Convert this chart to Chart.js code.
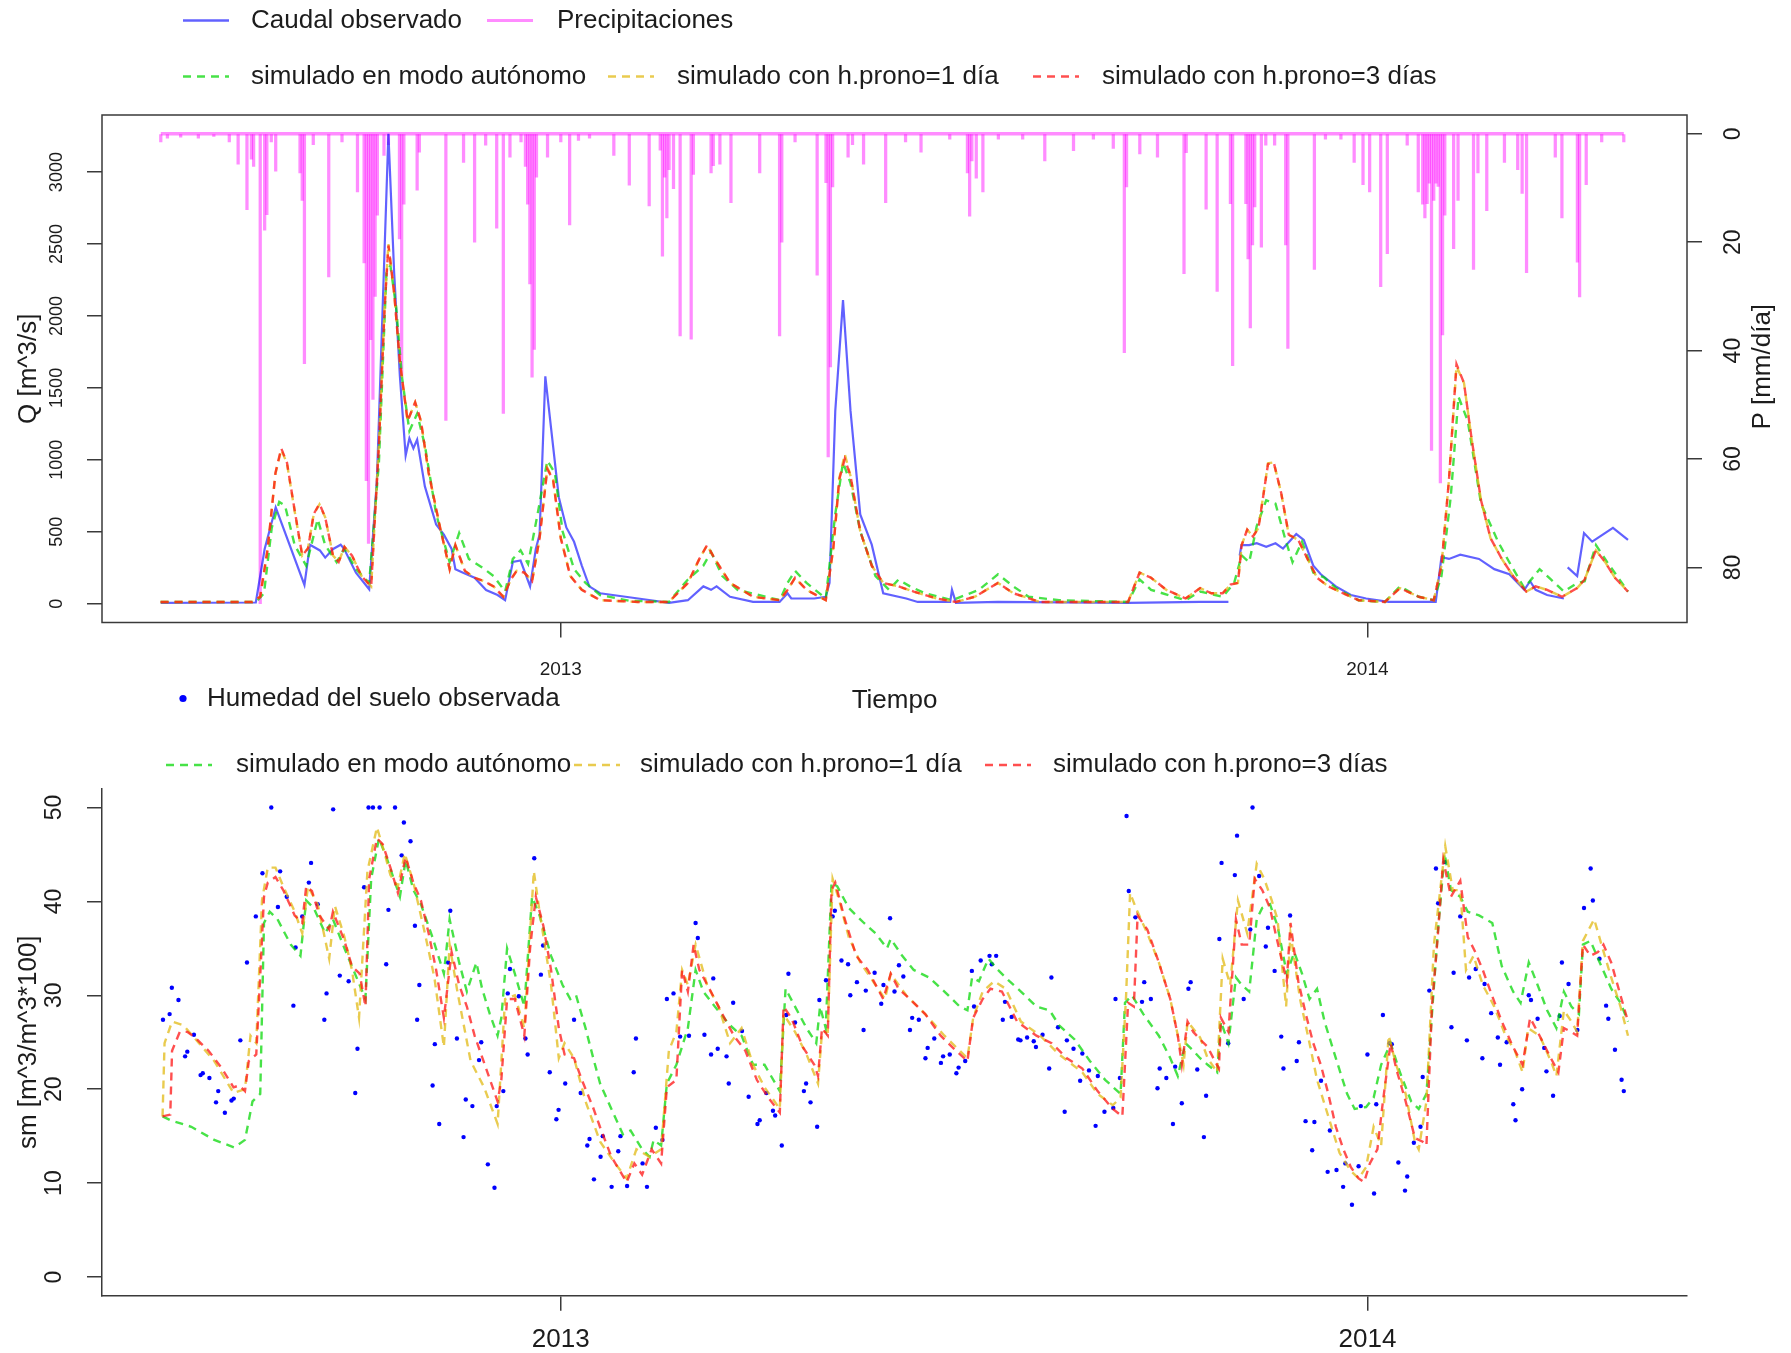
<!DOCTYPE html>
<html><head><meta charset="utf-8">
<script src="https://cdn.jsdelivr.net/npm/chart.js@4.4.1/dist/chart.umd.min.js"></script>
<style>
html,body{margin:0;padding:0;background:#fff;}
#wrap{position:relative;width:1791px;height:1353px;background:#fff;}
canvas{position:absolute;left:0;top:0;}
</style></head><body>
<div id="wrap"><canvas id="cTop" width="1791" height="1353"></canvas><canvas id="cBot" width="1791" height="1353"></canvas></div>
<script>
// ---------------- DATA (day = days since 2012-07-01) ----------------
const yearTickDays = [184, 549];
const yearTickLabels = ['2013', '2014'];
const qTicks = [0, 500, 1000, 1500, 2000, 2500, 3000];
const pTicks = [0, 20, 40, 60, 80];
const smTicks = [0, 10, 20, 30, 40, 50];

// Caudal observado [m3/s]  (null = missing)
const qObs = [[3,5],[46,8],[50,380],[55,670],[68,130],[70.5,410],[75,370],[77.4,320],[81,380],[84.4,410],[86,380],[91.3,215],[97.3,100],[100.8,860],[103.4,2060],[106,3266],[108.6,2300],[111.2,1580],[113.8,1030],[115.5,1150],[117.3,1080],[119,1140],[122.5,815],[127.6,550],[131.1,480],[134.6,380],[136.3,240],[139.8,215],[145,180],[150.2,95],[155.4,60],[158.8,24],[162.3,290],[165.8,300],[170.1,120],[172.7,380],[174.4,480],[177,1580],[179.6,1220],[183.1,740],[186.5,530],[190,430],[193.5,265],[196.9,120],[201.8,72],
[219,36],[233,5],[241.5,24],[248.5,120],[252,96],[254.5,120],[260.6,48],[271,12],[283,12],[286.6,72],[288.3,36],[298.7,36],[303.9,48],[305.6,144],[308.2,1340],[311.7,2110],[315.1,1340],[319.5,620],[324.7,410],[329.9,72],[340.3,36],[345.5,12],[360.2,12],[361,96],[362.8,5],[381.8,12],[440.7,5],[473.3,12],[486.1,12],[488,null],
[491.2,335],[492,407],[495.5,407],[498.9,420],[503.2,395],[507.4,420],[510.8,383],[516.8,484],[520.2,443],[524.5,264],[527.9,204],[534.7,120],[541.5,60],[545,48],[548.4,36],[558.6,12],[579.9,12],[582.5,323],[585.9,311],[591,340],[599.5,311],[606.4,240],[613.2,204],[620,96],[622.6,156],[625.1,96],[630.3,60],[637.9,36],[638.8,null],
[639.6,252],[643.9,192],[647,491],[650.7,431],[660.1,527],[666.9,443]];

// simulado en modo autónomo
const qSimAut = [[2.9,12],[46.2,12],[49.7,72],[53.2,527],[56.6,707],[59.2,683],[63.6,407],[68.8,264],[74,587],[77.4,407],[82.6,288],[86.1,383],[91.3,240],[97.3,144],[101.7,980],[105.1,2300],[106.9,2350],[109.5,2060],[112.1,1580],[115.5,1200],[119,1320],[122.5,1100],[127.6,623],[133.7,288],[138,491],[142.4,311],[148.4,252],[153.6,192],[158.8,84],[162.3,311],[165.8,371],[169.2,276],[173.5,623],[177.9,994],[181.3,910],[184.8,503],[190,240],[195.2,144],[201.8,60],
[215,20],[232.9,12],[241.5,168],[248.5,264],[252,359],[257.1,192],[264,96],[283.1,24],[286.6,144],[290,228],[295.2,144],[303.9,36],[308.2,623],[311.7,982],[315.1,839],[319.5,503],[326.4,192],[332.5,96],[336.8,168],[342,120],[348.9,72],[361,24],[373.2,96],[381.8,204],[388.8,120],[395.7,48],[409.5,24],[440.7,12],[445.9,168],[451.1,96],[461.5,48],[466.7,24],[473.3,84],
[483.5,48],[488.7,144],[492.1,335],[495.5,288],[498.9,539],[503.2,719],[507.4,695],[511.7,455],[515.1,288],[519.4,431],[524.5,216],[529.6,180],[534.7,108],[545,24],[556.9,12],[563.7,120],[572.2,48],[579,24],[582.5,192],[586.7,743],[590.2,1438],[594.4,1270],[600.4,695],[608.1,431],[613.2,288],[620,108],[626.9,240],[632,168],[637.9,84],[643.9,144],[647.3,156],[652.4,407],[657.5,288],[666.9,84]];

// simulado con h.prono=1 día
const qSim1 = [[2.9,12],[44.5,12],[48,50],[51.4,390],[54.9,905],[57.5,1070],[60.1,975],[63.6,640],[67,335],[69.6,385],[72.2,620],[74.8,690],[77.4,600],[80.9,335],[83.5,290],[86.1,395],[89.5,335],[93.9,190],[98.2,120],[101.7,1110],[104.3,2080],[106,2500],[108.6,2160],[111.2,1680],[114.7,1270],[118.1,1400],[120.7,1270],[124.2,910],[129.4,527],[133.7,240],[136.3,407],[140.6,228],[145,180],[149.3,156],[153.6,120],[158,48],[161.4,168],[164,228],[167.5,216],[171,156],[174.4,455],[177.9,945],[180.5,863],[184,455],[188.3,192],[193.5,96],[201.8,24],
[219,12],[232.9,12],[241.5,144],[246.7,311],[250.2,407],[253.7,311],[260.6,144],[271,48],[283.1,24],[286.6,96],[290,180],[295.2,96],[303.9,24],[307.3,383],[310,870],[312.5,1040],[315.1,887],[319.5,503],[324.7,264],[329.9,144],[336.8,120],[343.7,84],[354.1,36],[362.8,12],[371.4,48],[381.8,144],[388.8,72],[400.9,12],[440.7,12],[445.9,216],[451.1,180],[458,96],[466.7,36],[473.3,108],
[478.4,72],[483.5,72],[487,132],[490.4,144],[492.1,407],[494.6,515],[497.2,467],[499.7,527],[504,975],[506.6,982],[510,767],[513.4,479],[517.7,443],[521.9,311],[526.2,180],[531.3,120],[538.1,72],[545,24],[556.9,12],[563.7,108],[572.2,48],[579,24],[582.5,264],[585.9,863],[589.3,1650],[592.7,1533],[596.1,1150],[600.4,719],[604.7,455],[609.8,311],[614.9,192],[620.9,84],[625.1,120],[630.3,96],[637.1,48],[643.9,108],[647.3,168],[652.4,371],[656.6,288],[661,180],[666.9,84]];

// simulado con h.prono=3 días
const qSim3 = [[2.9,12],[44.5,12],[48,48],[51.4,383],[54.9,910],[57.5,1080],[60.1,980],[63.6,647],[67,335],[69.6,383],[72.2,623],[74.8,695],[77.4,600],[80.9,335],[83.5,290],[86.1,395],[89.5,335],[93.9,190],[98.2,120],[101.7,1100],[104.3,2060],[106,2490],[108.6,2160],[111.2,1680],[114.7,1270],[118.1,1400],[120.7,1270],[124.2,910],[129.4,527],[133.7,240],[136.3,407],[140.6,228],[145,180],[149.3,156],[153.6,120],[158,48],[161.4,168],[164,228],[167.5,216],[171,156],[174.4,455],[177.9,935],[180.5,863],[184,455],[188.3,192],[193.5,96],[201.8,24],
[219,12],[232.9,12],[241.5,144],[246.7,311],[250.2,407],[253.7,311],[260.6,144],[271,48],[283.1,24],[286.6,96],[290,180],[295.2,96],[303.9,24],[307.3,383],[310,863],[312.5,1006],[315.1,887],[319.5,503],[324.7,264],[329.9,144],[336.8,120],[343.7,84],[354.1,36],[362.8,12],[371.4,48],[381.8,144],[388.8,72],[400.9,12],[440.7,12],[445.9,216],[451.1,180],[458,96],[466.7,36],[473.3,108],
[478.4,72],[483.5,72],[487,132],[490.4,144],[492.1,407],[494.6,515],[497.2,467],[499.7,527],[504,970],[506.6,982],[510,767],[513.4,479],[517.7,443],[521.9,311],[526.2,180],[531.3,120],[538.1,72],[545,24],[556.9,12],[563.7,108],[572.2,48],[579,24],[582.5,264],[585.9,863],[589.3,1665],[592.7,1533],[596.1,1150],[600.4,719],[604.7,455],[609.8,311],[614.9,192],[620.9,84],[625.1,120],[630.3,96],[637.1,48],[643.9,108],[647.3,168],[652.4,371],[656.6,288],[661,180],[666.9,84]];

// Precipitaciones [mm/día]
const precip = [[3,1.5],[6,0.8],[12,0.6],[20,0.8],[27,0.5],[34,1.5],[38,5.6],[42,14],[44,4.7],[45,6],[48,86.7],[50,17.8],[51,14.9],[53,1.5],[55,6.9],[66,7.2],[67,12.3],[68,42.4],[72,2],[79,26.4],[85,1.5],[92,10.7],[95,23.8],[96,64],[97,75.6],[98,38],[99,49],[100,30],[101,15],[104,4],[106,2],[111,19.4],[112,44.9],[113,13],[119,10.4],[120,3.4],[132,52.9],[140,5.3],[145,20],[150,2.1],[155,17.4],[158,51.6],[161,4.3],[166,1.5],[168,6],[169,13],[170,27.7],[171,44.9],[172,39.8],[173,8],[178,4.3],[184,1.5],[188,16.8],[192,1.2],[197,0.8],
[208,4],[215,9.5],[224,13.3],[229,3],[230,22.6],[231,8],[232,15.5],[233,6.6],[235,10.1],[238,37.3],[243,37.9],[244,7.5],[252,7.2],[253,5.9],[256,5.6],[261,12.7],[274,7.2],[283,37.3],[284,20],[290,1.5],[300,26.1],[304,9],[305,59.6],[306,43],[307,9.8],[314,4.3],[316,2],[321,5.6],[331,12.7],[340,1.5],[347,3.4],[360,1],[368,7.2],[369,15.2],[370,5],[372,8.2],[375,10.7],[382,1],[393,1],[403,5],[416,3.1],[425,1],[434,2.7],[439,40.4],[440,9.8],[446,3.7],[454,4.3],[466,25.8],[467,3.5],
[476,13.9],[481,29.1],[487,12.9],[488,42.8],[494,12.9],[495,23.1],[496,35.8],[497,20.5],[498,13.5],[501,20.9],[503,2.1],[507,2.1],[512,20.5],[513,39.6],[525,25],[530,1],[537,1],[543,5.3],[547,9.4],[550,10.7],[555,28.2],[558,22.1],[567,2.1],[572,10.7],[574,13],[575,15.5],[576,12.9],[577,9.1],[578,58.4],[579,12.3],[580,9.1],[581,9.7],[582,64.4],[583,37.1],[584,15],[588,21.2],[590,12.3],[597,25],[599,7.2],[603,14.2],[611,5.3],[617,6.6],[619,11],[621,25.6],[634,4.3],[637,15.5],[644,23.7],[645,30.1],[648,9.4],[655,1.5],[665,1.5]];

// Humedad del suelo observada [m3/m3*100]
const smObs = [[4,27.4],[7,28.0],[8,30.8],[11,29.5],[14,23.5],[15,24.0],[18,25.8],[21,21.5],[22,21.7],[25,21.2],[28,18.6],[29,19.8],[32,17.5],[35,18.8],[36,19.0],[39,25.2],[42,33.5],[46,38.4],[49,43.0],[53,50.0],[56,39.4],[57,43.2],[60,40.5],[63,28.9],[64,35.1],[67,38.4],[70,42.0],[71,44.1],[74,39.7],[77,27.4],[78,30.2],[81,49.8],[84,32.1],[88,31.5],[91,19.6],[92,24.3],[95,41.5],[97,50.0],[99,50.0],[102,50.0],[105,33.3],[106,39.1],[109,50.0],[112,44.9],[113,48.4],[116,46.4],[118,37.4],[119,27.4],[120,31.1],[126,20.4],[127,24.8],[129,16.3],[133,33.5],[134,39.0],[137,25.4],[140,14.9],[141,18.9],[144,18.2],[147,23.1],[148,25.0],[151,12.0],[154,9.5],[155,18.2],[158,19.8],[160,30.2],[161,32.8],[165,29.9],[168,25.4],[169,23.7],[172,44.6],[175,32.2],[176,35.3],[179,21.8],[182,16.8],[183,17.8],[186,20.6],[190,27.4],[193,19.6],[196,14.0],[197,14.7],[199,10.4],[202,12.8],
[203,15.0],[207,9.6],[210,13.4],[211,15.0],[214,9.7],[217,21.8],[218,25.4],[221,12.1],[223,9.6],[227,15.9],[230,14.6],[232,29.6],[235,30.2],[238,25.6],[242,25.7],[245,37.7],[246,36.1],[249,25.8],[252,23.7],[253,31.8],[255,24.3],[259,23.5],[260,20.6],[262,29.2],[266,26.2],[269,19.2],[273,16.3],[274,16.7],[277,19.6],[280,17.7],[281,17.2],[284,14.0],[286,27.9],[287,32.3],[290,27.1],[294,19.8],[295,20.6],[297,18.6],[300,16.0],[301,29.5],[304,31.6],[307,38.4],[308,39.0],[311,33.7],[314,33.3],[315,30.0],[318,31.4],[321,26.3],[322,30.5],[326,32.4],[329,29.1],[330,31.1],[333,38.2],[335,30.4],[337,33.2],[339,32.0],[342,26.3],[343,27.6],[346,27.4],[349,23.3],[350,24.4],[353,25.4],[356,22.8],[357,23.5],[360,23.7],[363,21.7],[364,22.3],[367,23.0],[370,32.6],[371,28.8],[374,33.7],[378,34.2],[379,33.3],[381,34.2],[384,27.4],[385,29.3],[388,27.7],[391,25.3],[392,25.2],[395,25.5],[398,25.1],[399,24.5],[402,25.8],[405,22.2],[406,31.9],[409,26.6],[412,17.6],[413,25.2],[416,24.3],[419,20.9],[420,23.8],[423,22.0],[426,16.1],[427,21.4],[430,17.6],[434,18.0],[435,29.6],[437,21.2],[440,49.1],[441,41.1],[444,38.3],[447,29.3],[448,31.4],[451,29.6],[454,20.1],[455,22.2],[458,21.2],[461,16.3],[462,22.4],[465,18.5],[468,30.7],[469,31.4],[472,22.1],
[475,14.9],[476,19.3],[482,36.0],[483,44.1],[486,24.9],[489,42.8],[490,47.0],[493,29.6],[496,37.0],[497,50.0],[500,42.7],[503,35.2],[504,37.2],[507,32.6],[510,25.6],[511,22.2],[514,38.5],[517,23.0],[518,25.0],[521,16.6],[524,13.5],[525,16.5],[528,20.9],[531,11.2],[532,15.6],[535,11.4],[538,9.6],[539,12.1],[542,7.7],[545,11.8],[546,18.2],[549,23.7],[552,8.9],[553,18.4],[556,27.9],[559,24.9],[560,24.8],[563,12.2],[566,9.2],[567,10.7],[570,14.3],[573,16.0],[574,21.3],[577,30.5],[580,43.5],[581,39.8],[584,44.2],[587,26.6],[588,32.4],[591,38.4],[594,25.2],[595,31.9],[598,32.8],[601,23.3],[602,31.2],[605,28.1],[608,25.5],[609,22.6],[612,25.0],[615,18.4],[616,16.7],[619,20.0],[622,30.0],[623,29.5],[626,27.5],[629,24.4],[630,21.9],[633,19.3],[636,27.8],[637,33.5],[640,31.2],[644,26.3],[647,39.3],[650,43.5],[651,40.1],[654,33.9],[657,28.9],[658,27.5],[661,24.2],[664,21.0],[665,19.8]];

const smSimAut = [[3.8,17.1],[7.3,16.7],[16.8,16.0],[27.2,14.6],[36.2,13.8],[41.1,14.6],[44.5,18.7],[48,19.5],[49.7,37.7],[52.3,38.9],[55.8,38.1],[61.8,35.4],[66.2,34.2],[68.8,40.1],[72.2,39.3],[77.4,36.6],[80.9,38.1],[86.1,35.0],[93,31.1],[95.6,29.6],[98.2,42.4],[101.7,46.7],[105.1,44.7],[111.2,40.5],[113.8,44.4],[117.3,41.2],[120.7,39.7],[125.9,36.2],[131.1,32.3],[133.7,38.1],[138,33.5],[141.5,30.4],[145.8,33.5],[148.4,30.7],[151.9,28.0],[155.4,25.7],[157.1,27.6],[159.7,35.0],[163.2,32.3],[167.5,28.8],[171,40.5],[174.4,38.5],[179.6,34.2],[184.8,31.1],[188.3,29.6],[190.9,30.0],[195.2,26.5],[198.7,23.3],[201.8,20.6],
[206.9,17.9],[212.1,15.2],[215.6,15.6],[220.8,13.6],[224.2,12.8],[226,14.6],[229.4,14.0],[232,20.6],[236.3,22.6],[241.5,26.5],[245,32.7],[248.5,30.4],[253.7,28.8],[260.6,26.8],[265.8,25.7],[271,22.6],[276.2,22.6],[283.1,19.8],[285.7,30.7],[290,28.8],[295.2,26.5],[299.6,24.9],[301.3,28.8],[303.9,26.5],[306.5,42.0],[309.1,41.6],[314.3,39.3],[321.2,37.7],[326.4,36.6],[331.6,35.0],[333.3,36.0],[338.5,34.2],[343.7,32.7],[350.6,31.9],[357.6,30.4],[364.5,28.8],[368,28.4],[370.1,31.9],[373.2,31.5],[377.5,33.9],[381.8,32.7],[387,31.5],[392.2,30.4],[399.2,28.8],[405.2,28.4],[409.5,26.8],[416.5,25.3],[423.4,23.0],[430.3,21.0],[437.3,19.5],[439.3,29.2],[442.4,30.0],[447.6,28.0],[454.6,25.7],[459.8,23.3],[463.2,21.4],[466.7,24.9],[470.2,24.1],[473.3,23.3],
[476.7,22.6],[481,21.8],[482.7,27.2],[486.1,24.9],[489.5,31.9],[492.1,31.1],[495.5,30.4],[498.9,38.1],[501.4,39.3],[504.9,39.7],[508.3,37.4],[512.5,32.3],[515.9,34.6],[519.4,32.3],[522.8,29.6],[526.2,30.7],[529.6,27.2],[534.7,23.3],[539.8,19.5],[543.2,17.9],[548.4,18.1],[551.8,19.1],[555.2,22.6],[559.5,24.9],[563.7,21.8],[568.8,18.7],[572.2,17.9],[575.7,19.5],[578.2,28.0],[580.8,36.6],[583.9,45.1],[586.8,41.2],[591,40.5],[594.4,38.9],[599.5,38.5],[605.5,37.7],[609.8,33.1],[614.9,30.4],[618.3,29.2],[622,33.5],[626,31.1],[630.3,28.4],[634.5,26.5],[637.9,30.4],[641.3,28.8],[644.7,28.0],[646.5,35.4],[649.9,35.8],[654.1,33.5],[659.3,30.7],[663.5,29.2],[666.9,27.2]];

const smSim1 = [[3.8,17.1],[4.7,24.9],[8.1,27.2],[13.3,26.8],[20.3,24.9],[27.2,23.0],[35.9,19.6],[41.1,20.0],[43.6,25.7],[46.2,24.9],[48.8,40.1],[51.4,43.6],[54.9,43.6],[58.4,41.6],[63.6,38.9],[67,36.6],[69.6,41.6],[74,39.7],[79.2,33.9],[81.8,39.5],[86.1,36.2],[89.5,32.7],[92.7,27.6],[96.5,43.2],[100.8,47.9],[104.3,45.1],[106.9,42.8],[110.3,41.6],[113.4,45.1],[117.3,42.0],[122.5,36.6],[126.8,31.9],[131.1,24.5],[133.7,35.4],[137.2,30.4],[143.2,23.0],[149.3,20.2],[155.4,16.3],[158.8,29.6],[163.2,30.0],[167.5,26.5],[171.8,43.2],[174.4,38.9],[179.6,31.1],[183.1,23.3],[185.7,24.9],[190,23.3],[195.2,18.7],[201.8,14.4],
[208.6,12.1],[213.8,10.5],[218.2,13.6],[224.2,12.8],[229.4,13.6],[232.9,24.1],[236.3,26.1],[238.9,32.7],[241.5,31.1],[245,35.4],[250.2,31.1],[255.4,28.8],[260.6,24.9],[265.8,26.5],[271,22.6],[276.2,20.2],[283.1,17.9],[284.8,28.0],[290,26.1],[295.2,23.7],[300.4,20.6],[302.2,26.1],[304.8,26.1],[307,42.4],[310,40.1],[314.3,36.2],[319.5,33.5],[326.4,31.1],[330.7,29.6],[333.3,32.3],[340.3,30.0],[348.9,28.0],[357.6,25.7],[364.5,24.1],[368,23.3],[370.6,27.6],[374.9,30.4],[380.1,31.5],[385.3,30.7],[392.2,27.2],[400.9,25.7],[409.5,23.7],[420,21.8],[426.9,19.5],[433.8,18.3],[437.3,19.1],[439.8,30.0],[441.6,40.9],[444.2,39.3],[449.4,36.6],[454.6,33.5],[459.8,29.6],[463.2,25.7],[465.8,22.6],[467.6,27.2],[473.3,25.5],
[476.7,23.3],[481,21.8],[483.5,33.9],[486.9,31.1],[490.4,40.1],[494.6,36.6],[498.9,44.0],[502.3,42.4],[505.7,40.1],[508.3,38.1],[512.2,28.8],[514.2,36.6],[518.5,29.6],[522.8,24.9],[526.2,21.0],[531.3,17.1],[536.4,13.2],[541.5,11.3],[545,10.5],[548.4,11.7],[551.8,16.0],[555.2,14.0],[558.6,25.7],[562,22.6],[566.3,19.5],[570.5,14.4],[572.2,13.6],[575.7,18.7],[579.1,35.4],[580.8,38.9],[584.2,45.9],[587.6,41.2],[591,41.2],[593.6,32.7],[597,34.2],[601.2,31.1],[606.4,28.8],[611.5,25.7],[615.7,24.1],[619.2,21.8],[621.7,26.5],[626.9,25.7],[632,23.0],[634.5,21.4],[637.9,28.4],[641.3,27.2],[643.9,26.1],[646.5,35.8],[651.6,38.1],[654.9,35.4],[659.3,31.9],[663.5,28.8],[666.9,25.7]];

const smSim3 = [[3.8,17.1],[7.3,17.3],[8.1,24.1],[11.6,26.1],[15.1,26.1],[18.5,25.5],[24.6,24.1],[30.7,22.2],[35.9,20.2],[38.5,20.4],[41.1,19.8],[42.8,23.0],[46.2,23.7],[48.3,33.5],[49.7,40.5],[51.4,42.0],[54.9,42.6],[58.4,41.2],[63.6,38.5],[67,37.7],[68.8,41.6],[71.4,41.1],[74.8,38.5],[79.2,37.0],[80.9,38.9],[86.1,35.8],[89.5,33.1],[93,32.3],[95.6,28.8],[97.3,42.4],[100.8,46.7],[103.4,46.1],[106.9,43.6],[110.3,40.9],[113.8,44.7],[117.3,42.0],[120.7,40.1],[124.2,36.6],[127.6,32.7],[131.1,27.6],[134.6,34.6],[138,31.1],[141.5,28.8],[145,25.7],[150.2,22.2],[155.4,18.7],[157.1,21.0],[159.7,29.6],[163.2,29.6],[167.5,25.7],[170.1,35.0],[172.7,40.5],[176.1,37.4],[179.6,32.7],[183.1,26.5],[185.7,23.7],[190,23.3],[193.5,21.0],[198.7,18.0],
[201.7,16.0],[206.9,12.8],[213.8,10.1],[217.3,12.1],[220.8,10.9],[225.1,13.6],[229.4,12.1],[232,20.2],[236.3,21.0],[238.9,32.7],[241.5,30.4],[244.1,35.4],[246.7,32.7],[251.9,30.4],[257.1,28.0],[262.3,25.7],[267.5,24.1],[272.7,21.0],[277.9,19.1],[283.1,17.5],[284.8,28.8],[288.3,27.6],[293.5,24.5],[298.7,22.6],[300.4,21.4],[302.2,26.5],[304.8,25.7],[306.5,41.2],[308.2,42.0],[312.5,38.1],[317.7,34.2],[322.9,32.7],[329.9,29.6],[333.3,32.3],[336.8,30.7],[342,29.6],[348.9,28.0],[355.9,25.7],[362.8,24.1],[368,23.0],[370.6,27.6],[374.9,29.6],[378.4,30.7],[383.6,30.4],[390.5,27.2],[399.2,25.7],[406.1,24.9],[413,23.3],[420,22.2],[426.9,19.8],[433.8,17.9],[438.1,17.1],[440.7,29.2],[443.3,28.8],[445,38.5],[449.4,37.0],[454.6,33.5],[459.8,29.6],[463.2,25.7],[465,22.6],[467.6,27.2],[470.2,26.1],
[473.3,25.3],[476.7,24.5],[479.3,23.3],[481.8,22.2],[482.7,27.6],[486.1,26.1],[489.5,38.1],[492.1,35.4],[495.5,35.4],[498,42.4],[501.4,41.2],[504.9,39.3],[507.4,36.6],[512.5,31.5],[514.2,37.7],[517.7,31.5],[521.1,28.0],[524.5,24.9],[527.9,22.6],[531.3,19.5],[534.7,16.0],[538.1,13.6],[541.5,11.7],[545,10.5],[547.5,10.1],[550.1,12.1],[553.5,13.6],[556,18.7],[559.5,24.9],[562,22.2],[566.3,18.7],[570.5,14.8],[574,14.4],[575.7,14.0],[578.2,28.8],[580.8,36.2],[583.3,44.4],[586.8,40.5],[591,42.2],[594.4,36.2],[597.8,34.6],[601.2,32.7],[604.7,30.4],[609.8,27.2],[614.9,24.5],[619.2,22.6],[622.6,27.6],[626.9,25.7],[632,23.3],[635.4,21.8],[637.9,26.5],[641.3,26.1],[643.9,25.7],[646.5,35.4],[649.9,34.2],[653.3,34.6],[655.8,35.4],[659.3,33.5],[663.5,30.0],[666.9,27.2]];

// ---------------- STYLE / LAYOUT ----------------
const W = 1791, H = 1353;
const FONT = '"Liberation Sans", Arial, Helvetica, sans-serif';
const TXT = '#1c1c1c';
const AXC = '#3a3a3a';
const C_OBS = 'rgba(0,0,255,0.62)';
const C_PINK = 'rgba(255,0,255,0.45)';
const C_GREEN = 'rgba(0,215,0,0.72)';
const C_YEL = 'rgba(225,185,20,0.75)';
const C_RED = 'rgba(255,20,20,0.75)';
const C_PT = '#0000ff';
const DASH = [8, 6];
const X_MIN = -23.6, X_MAX = 693.6;
const TOP = {left: 102, right: 1687, top: 115, bottom: 622.5};
const BOT = {left: 102, right: 1687, top: 788.7, bottom: 1295.8};
const XAXIS_H = 30;

const xy = arr => arr.map(([x, y]) => ({x, y}));

function drawText(ctx, str, x, y, size, rot, align) {
  ctx.save();
  ctx.font = size + 'px ' + FONT;
  ctx.fillStyle = TXT;
  ctx.textAlign = align || 'center';
  ctx.textBaseline = 'middle';
  ctx.translate(x, y);
  if (rot) ctx.rotate(-Math.PI / 2);
  ctx.fillText(str, 0, 0);
  ctx.restore();
}

const rDecor = {
  id: 'rDecor',
  afterDraw(chart, args, o) {
    const ctx = chart.ctx, a = chart.chartArea;
    if (o.box) {
      ctx.save(); ctx.strokeStyle = AXC; ctx.lineWidth = 1.5;
      ctx.strokeRect(a.left, a.top, a.right - a.left, a.bottom - a.top);
      ctx.restore();
    }
    (o.tickLabels || []).forEach(t => {
      const s = chart.scales[t.scale];
      s.ticks.forEach((tk, i) => {
        let x, y;
        if (s.isHorizontal()) { x = s.getPixelForValue(tk.value); y = a.bottom + t.offset; }
        else { y = s.getPixelForValue(tk.value); x = s.position === 'left' ? a.left - t.offset : a.right + t.offset; }
        drawText(ctx, t.labels[i], x, y, t.size, t.rotate);
      });
    });
    (o.titles || []).forEach(t => drawText(ctx, t.text, t.x(a), t.y(a), t.size, t.rotate));
    (o.legend || []).forEach(it => {
      const ds = chart.data.datasets[it.ds];
      ctx.save();
      if (it.kind === 'point') {
        ctx.fillStyle = ds.pointBackgroundColor;
        ctx.beginPath(); ctx.arc(it.x + 2, it.y, 3.6, 0, Math.PI * 2); ctx.fill();
      } else {
        ctx.strokeStyle = ds.legendColor || ds.borderColor || ds.backgroundColor;
        ctx.lineWidth = it.lw || 2.6;
        ctx.setLineDash(ds.borderDash || []);
        ctx.beginPath(); ctx.moveTo(it.x, it.y); ctx.lineTo(it.x + 46, it.y); ctx.stroke();
      }
      ctx.restore();
      drawText(ctx, ds.label, it.tx, it.y, 26, false, 'left');
    });
  }
};

function tickScale(vals, extra) {
  return Object.assign({
    type: 'linear',
    afterBuildTicks: s => { s.ticks = vals.map(v => ({value: v})); },
    ticks: {display: false},
    grid: {offset: false, drawOnChartArea: false, drawTicks: true, tickLength: 15, color: AXC, lineWidth: 1.5},
    border: {display: false}
  }, extra);
}

// ---------------- TOP CHART ----------------
const pDays = precip.map(p => p[0]);
new Chart(document.getElementById('cTop'), {
  type: 'line',
  data: {datasets: [
    {label: 'simulado con h.prono=3 días', data: xy(qSim3), yAxisID: 'q', borderColor: C_RED, borderDash: DASH, borderWidth: 2.4, pointRadius: 0, order: 1},
    {label: 'simulado con h.prono=1 día', data: xy(qSim1), yAxisID: 'q', borderColor: C_YEL, borderDash: DASH, borderWidth: 2.4, pointRadius: 0, order: 2},
    {label: 'simulado en modo autónomo', data: xy(qSimAut), yAxisID: 'q', borderColor: C_GREEN, borderDash: DASH, borderWidth: 2.4, pointRadius: 0, order: 3},
    {label: 'Caudal observado', data: xy(qObs), yAxisID: 'q', borderColor: C_OBS, borderWidth: 2.2, pointRadius: 0, spanGaps: false, order: 4},
    {type: 'bar', label: 'Precipitaciones', data: xy(precip), yAxisID: 'p', backgroundColor: C_PINK, legendColor: 'rgba(255,0,255,0.45)', barThickness: 2.6, grouped: false, order: 5},
    {label: 'P base', data: [{x: Math.min(...pDays), y: 0}, {x: Math.max(...pDays), y: 0}], yAxisID: 'p', borderColor: C_PINK, borderWidth: 3.5, pointRadius: 0, order: 6}
  ]},
  options: {
    responsive: false, animation: false, devicePixelRatio: 1,
    layout: {padding: {left: 0, right: 0, top: TOP.top, bottom: H - TOP.bottom - XAXIS_H}},
    plugins: {
      legend: {display: false}, tooltip: {enabled: false},
      rDecor: {
        box: true,
        tickLabels: [
          {scale: 'q', labels: qTicks.map(String), size: 18, rotate: true, offset: 45},
          {scale: 'p', labels: pTicks.map(String), size: 23, rotate: true, offset: 47},
          {scale: 'x', labels: yearTickLabels, size: 19, rotate: false, offset: 47.5}
        ],
        titles: [
          {text: 'Q [m^3/s]', x: a => 29, y: a => (a.top + a.bottom) / 2, size: 26, rotate: true},
          {text: 'P [mm/día]', x: a => 1763, y: a => (a.top + a.bottom) / 2 - 2, size: 26, rotate: true},
          {text: 'Tiempo', x: a => (a.left + a.right) / 2, y: a => 701, size: 26}
        ],
        legend: [
          {ds: 3, x: 183, y: 20.5, tx: 251},
          {ds: 4, x: 487, y: 20.5, tx: 557, lw: 3},
          {ds: 2, x: 183, y: 76.5, tx: 251},
          {ds: 1, x: 608, y: 76.5, tx: 677},
          {ds: 0, x: 1033, y: 76.5, tx: 1102}
        ]
      }
    },
    scales: {
      x: tickScale(yearTickDays, {min: X_MIN, max: X_MAX, offset: false, afterFit: s => { s.height = XAXIS_H; }}),
      q: tickScale(qTicks, {position: 'left', min: -131, max: 3397, afterFit: s => { s.width = TOP.left; }}),
      p: tickScale(pTicks, {position: 'right', reverse: true, min: -3.47, max: 90.17, afterFit: s => { s.width = W - TOP.right; }})
    }
  },
  plugins: [rDecor]
});

// ---------------- BOTTOM CHART ----------------
new Chart(document.getElementById('cBot'), {
  type: 'line',
  data: {datasets: [
    {label: 'simulado con h.prono=3 días', data: xy(smSim3), borderColor: C_RED, borderDash: DASH, borderWidth: 2.4, pointRadius: 0, order: 1},
    {label: 'simulado con h.prono=1 día', data: xy(smSim1), borderColor: C_YEL, borderDash: DASH, borderWidth: 2.4, pointRadius: 0, order: 2},
    {label: 'simulado en modo autónomo', data: xy(smSimAut), borderColor: C_GREEN, borderDash: DASH, borderWidth: 2.4, pointRadius: 0, order: 3},
    {type: 'scatter', label: 'Humedad del suelo observada', data: xy(smObs), showLine: false, pointRadius: 2.2, pointBorderWidth: 0, pointBackgroundColor: C_PT, backgroundColor: C_PT, order: 4}
  ]},
  options: {
    responsive: false, animation: false, devicePixelRatio: 1,
    layout: {padding: {left: 0, right: W - BOT.right, top: BOT.top, bottom: H - BOT.bottom - XAXIS_H}},
    plugins: {
      legend: {display: false}, tooltip: {enabled: false},
      rDecor: {
        box: false,
        tickLabels: [
          {scale: 'y', labels: smTicks.map(String), size: 23, rotate: true, offset: 47},
          {scale: 'x', labels: yearTickLabels, size: 26, rotate: false, offset: 44}
        ],
        titles: [
          {text: 'sm [m^3/m^3*100]', x: a => 29, y: a => (a.top + a.bottom) / 2, size: 26, rotate: true}
        ],
        legend: [
          {ds: 3, kind: 'point', x: 181, y: 698.5, tx: 207},
          {ds: 2, x: 166, y: 765, tx: 236},
          {ds: 1, x: 574, y: 765, tx: 640},
          {ds: 0, x: 985, y: 765, tx: 1053}
        ]
      }
    },
    scales: {
      x: tickScale(yearTickDays, {min: X_MIN, max: X_MAX, offset: false, afterFit: s => { s.height = XAXIS_H; }, border: {display: true, color: AXC, width: 1.5}}),
      y: tickScale(smTicks, {position: 'left', min: -2, max: 52, afterFit: s => { s.width = BOT.left; }, border: {display: true, color: AXC, width: 1.5}})
    }
  },
  plugins: [rDecor]
});
</script>
</body></html>
